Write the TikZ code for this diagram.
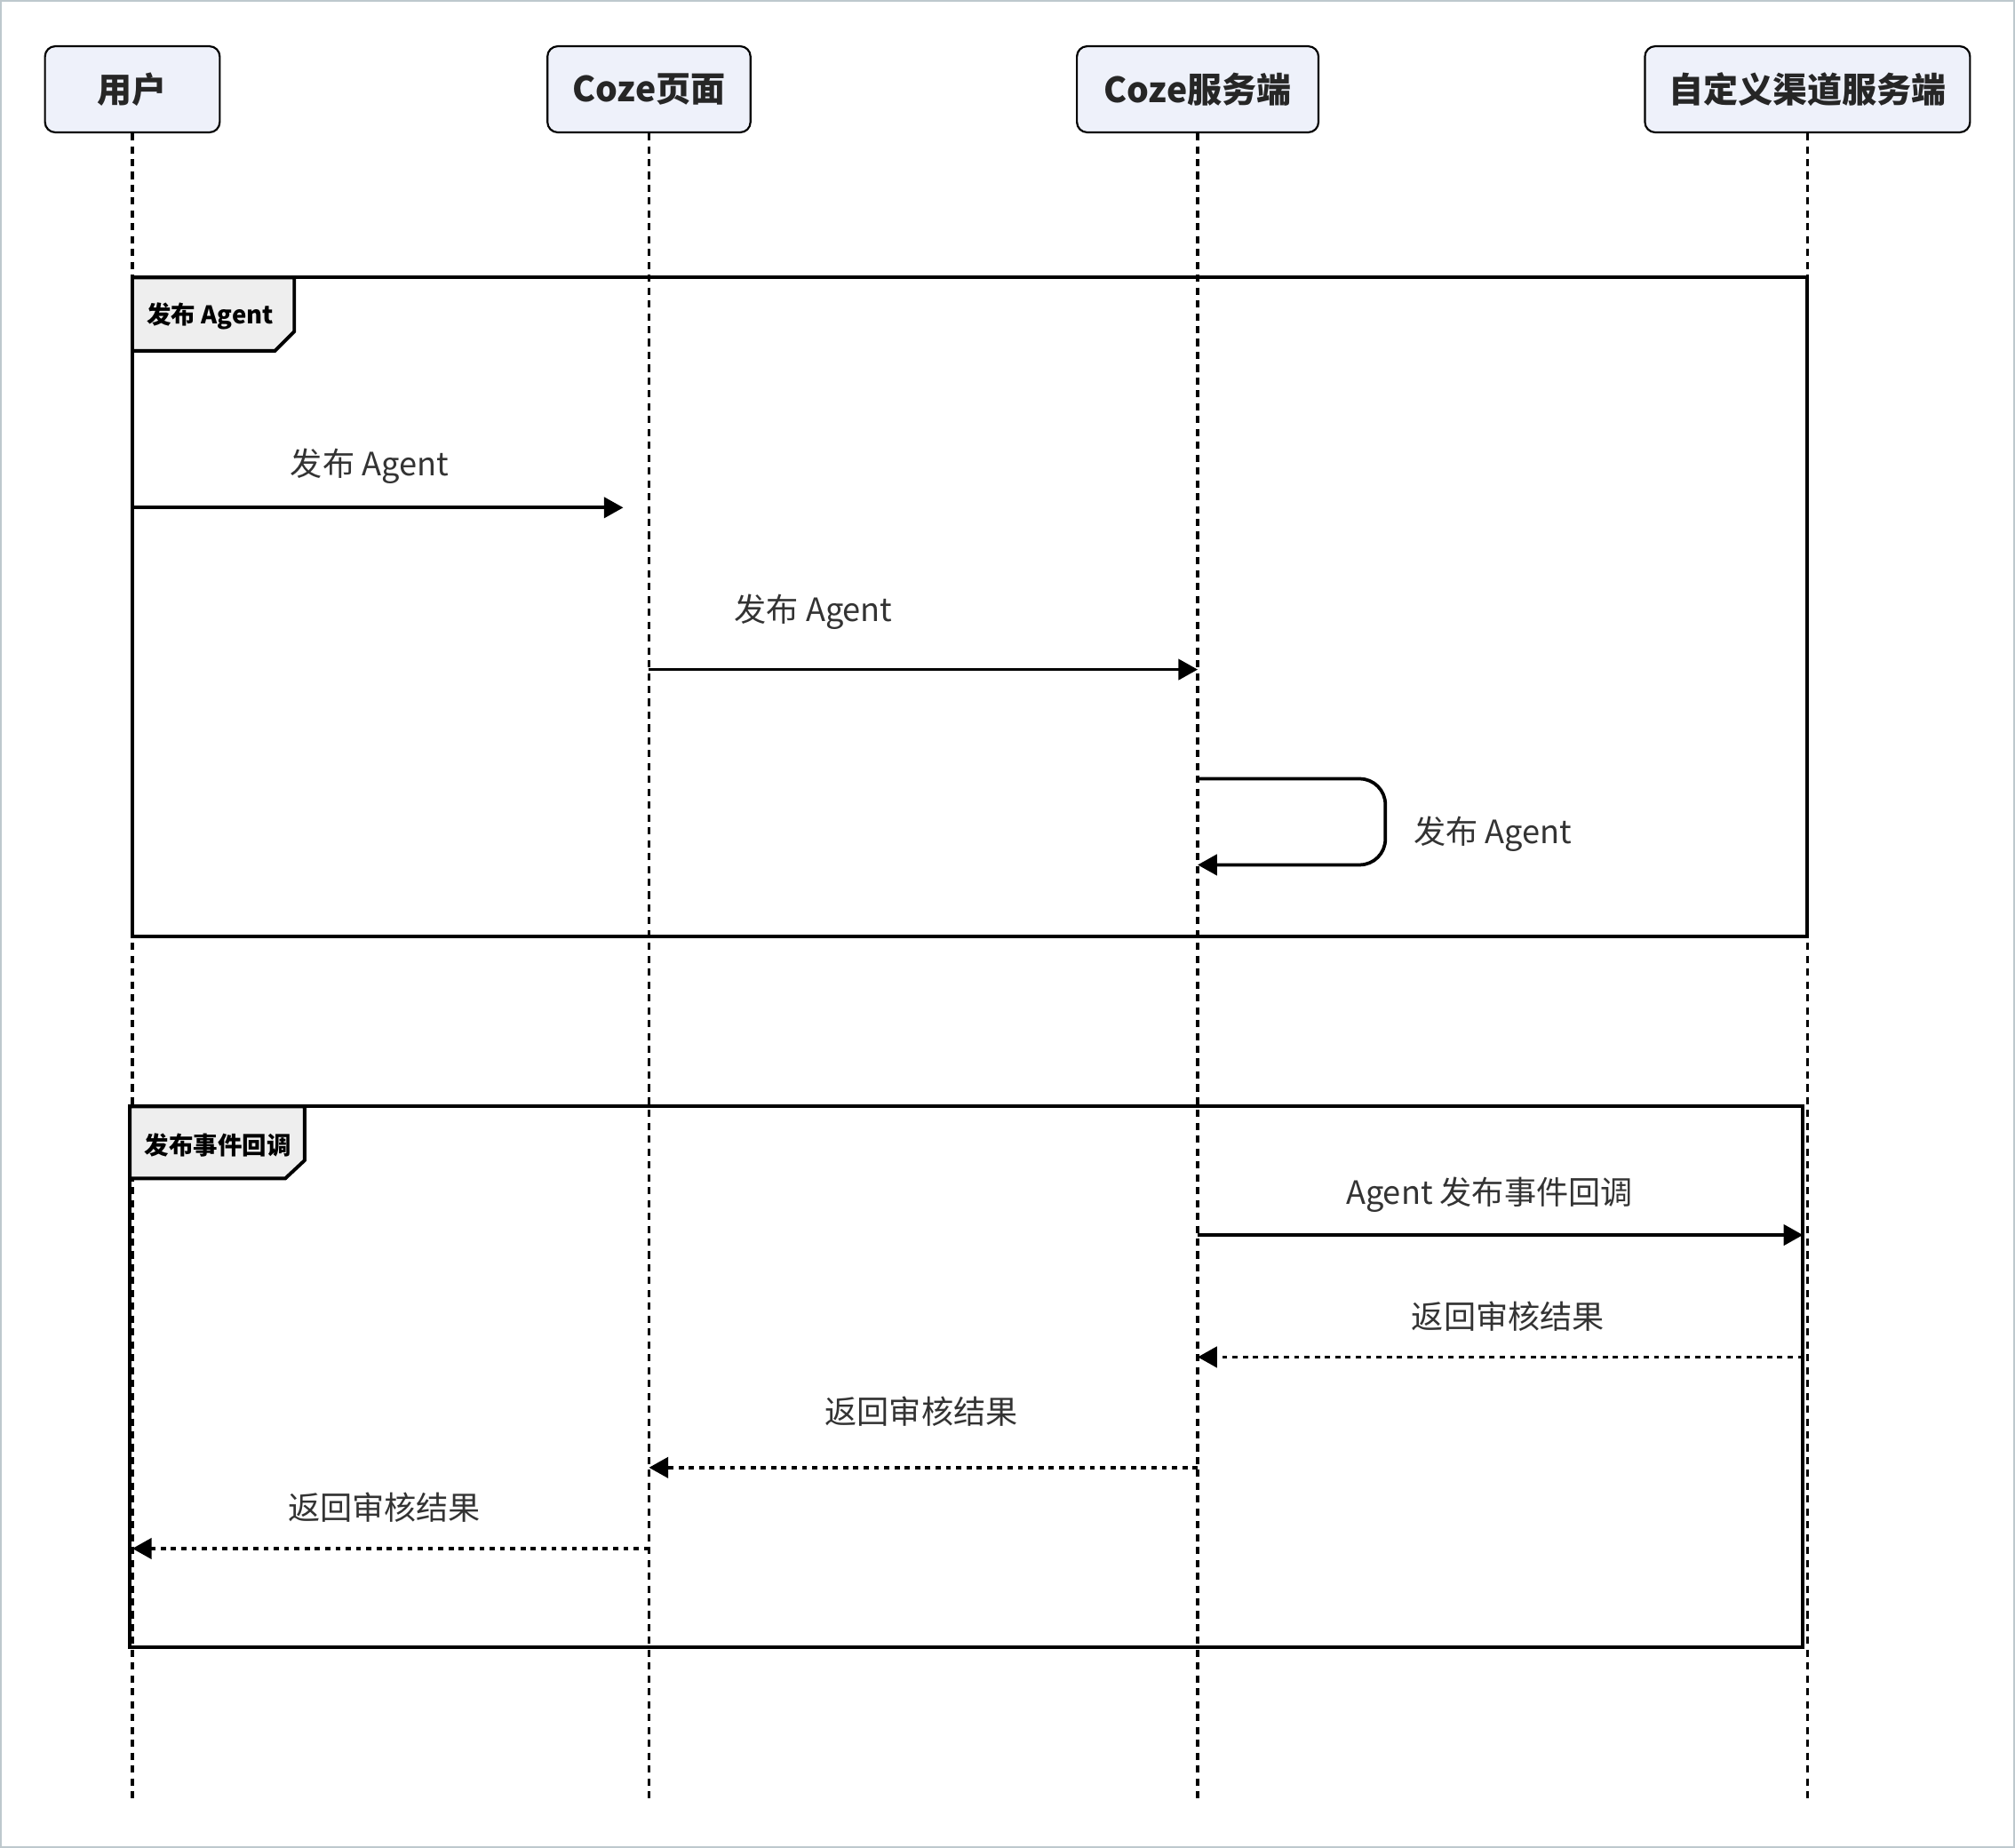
\documentclass[tikz,border=0pt]{standalone}
\usepackage{fontspec}
\setmainfont{Noto Sans CJK SC}
\usetikzlibrary{arrows.meta}
\definecolor{actorfill}{RGB}{238,241,250}
\definecolor{tabfill}{RGB}{238,238,238}
\definecolor{msgtext}{RGB}{51,51,51}
\definecolor{edgegray}{RGB}{190,200,205}
\tikzstyle{actor}=[draw=black,fill=actorfill,rounded corners=4pt,line width=0.75pt,minimum height=33.5pt,inner sep=0pt,font=\fontsize{13.5}{16}\selectfont\bfseries,text=black!85]
\tikzstyle{lifeline}=[draw,line width=1.25pt,dash pattern=on 2.8pt off 2.2pt]
\tikzstyle{frame}=[draw,line width=1.35pt]
\tikzstyle{tab}=[draw,line width=1.35pt,fill=tabfill]
\tikzstyle{tablabel}=[font=\fontsize{9.5}{11}\selectfont\bfseries,inner sep=0pt]
\tikzstyle{msg}=[draw,line width=1.3pt,-{Triangle[length=7.5pt,width=8pt]}]
\tikzstyle{reply}=[msg,dash pattern=on 2pt off 2pt]
\tikzstyle{msglabel}=[font=\fontsize{12.5}{15}\selectfont,text=msgtext,inner sep=0pt]

\begin{document}
\begin{tikzpicture}[x=0.5pt,y=-0.5pt]

    \useasboundingbox (0,0) rectangle (1568,1438);
    \draw[edgegray,line width=0.6pt] (0.6,0.6) rectangle (1567.4,1437.4);

    % Participants and their lifelines
    \foreach \pos/\name/\w/\label in {{(103,69.5)/U/68pt/用户}, {(505,69.5)/P/79pt/Coze页面}, {(932,69.5)/S/94pt/Coze服务端}, {(1406.5,69.5)/C/126.5pt/自定义渠道服务端}}
        \node[actor,minimum width=\w] (\name) at \pos {\label};

    \foreach \name in {U,P,S,C}
        \path[lifeline] (\name.south) -- (\name.south |- 0,1402);

    % Frame: 发布 Agent
    \path[frame] (103,216) rectangle (1406,729);
    \path[tab] (103,216) -- (229,216) -- (229,258) -- (214,273) -- (103,273) -- cycle;
    \node[tablabel] (f1) at (163.5,246) {发布 Agent};

    % Frame: 发布事件回调
    \path[frame] (101,861) rectangle (1403,1282);
    \path[tab] (101,861) -- (237,861) -- (237,903) -- (222,917) -- (101,917) -- cycle;
    \node[tablabel] (f2) at (169.5,891) {发布事件回调};

    % Message ends
    \coordinate (m1s) at (U |- 0,395);   \coordinate (m1e) at (485,395);
    \coordinate (m2s) at (P |- 0,521);   \coordinate (m2e) at (S |- 0,521);
    \coordinate (m3s) at (S |- 0,606);   \coordinate (m3e) at (S |- 0,673);
    \coordinate (m4s) at (S |- 0,961);   \coordinate (m4e) at (1403,961);
    \coordinate (m5s) at (1403,1056);    \coordinate (m5e) at (S |- 0,1056);
    \coordinate (m6s) at (S |- 0,1142);  \coordinate (m6e) at (P |- 0,1142);
    \coordinate (m7s) at (P |- 0,1205);  \coordinate (m7e) at (U |- 0,1205);

    % Messages
    \path[msg] (m1s) -- (m1e);
    \path[msg] (m2s) -- (m2e);
    \path[msg,rounded corners=10pt] (m3s) -- (1078,606) -- (1078,673) -- (m3e);
    \path[msg] (m4s) -- (m4e);
    \path[reply] (m5s) -- (m5e);
    \path[reply] (m6s) -- (m6e);
    \path[reply] (m7s) -- (m7e);

    % Message labels
    \foreach \pos/\name/\label in {{(287.5,363)/l1/发布 Agent}, {(633,476)/l2/发布 Agent}, {(1161.5,649)/l3/发布 Agent}, {(1159,930)/l4/Agent 发布事件回调}, {(1173.5,1024)/l5/返回审核结果}, {(717,1098)/l6/返回审核结果}, {(299,1173)/l7/返回审核结果}}
        \node[msglabel] (\name) at \pos {\label};

\end{tikzpicture}
\end{document}
